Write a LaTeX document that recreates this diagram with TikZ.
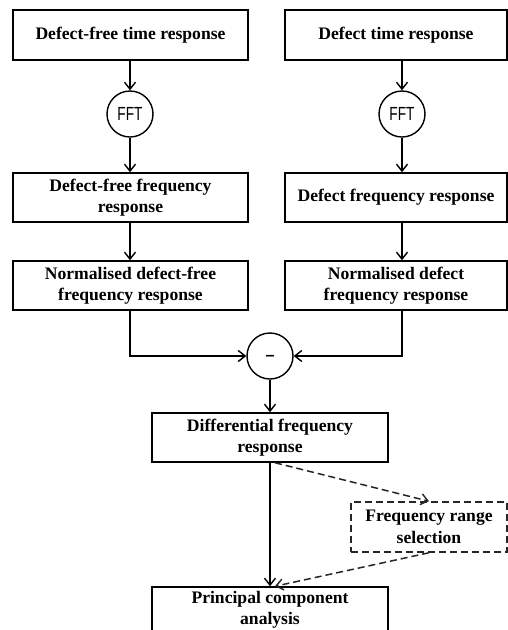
\documentclass[tikz,border=0pt]{standalone}
\usepackage{fontspec}
\setmainfont{Liberation Serif}
\setsansfont{Liberation Sans}
\newfontfamily\narrowsans[FakeStretch=0.72]{Liberation Sans}
\usetikzlibrary{arrows.meta}
\begin{document}
\begin{tikzpicture}[x=1pt,y=-1pt,
  box/.style={draw,line width=1.5pt,rectangle,align=center,inner sep=0pt,
    font=\fontsize{17.6}{21.5}\selectfont\bfseries},
  dbox/.style={box,dash pattern=on 7pt off 4pt,draw=black!85},
  opc/.style={draw,circle,line width=1.4pt,minimum size=46pt,inner sep=0pt,
    font=\fontsize{19}{21}\narrowsans},
  arr/.style={line width=1.5pt,-{Straight Barb[length=7pt,width=11pt,line width=1.4pt]}},
  darr/.style={line width=1.5pt,dash pattern=on 7pt off 4pt,draw=black!85,
    -{Straight Barb[length=7pt,width=11pt,line width=1.4pt]}}]
\clip (0,0) rectangle (508,630);
\useasboundingbox (0,0) rectangle (508,630);
% top boxes
\node[box,minimum width=235pt,minimum height=50pt] (b1) at (130.5,35) {Defect-free time response};
\node[box,minimum width=222pt,minimum height=50pt] (b2) at (396,35) {Defect time response};
% FFT
\node[opc] (f1) at (130,114) {FFT};
\node[opc] (f2) at (402,114) {FFT};
% frequency response
\node[box,minimum width=235pt,minimum height=49pt] (c1) at (130.5,197.5) {Defect-free frequency\\response};
\node[box,minimum width=222pt,minimum height=49pt] (c2) at (396,197.5) {Defect frequency response};
% normalised
\node[box,minimum width=235pt,minimum height=49pt] (n1) at (130.5,285.5) {Normalised defect-free\\frequency response};
\node[box,minimum width=222pt,minimum height=49pt] (n2) at (396,285.5) {Normalised defect\\frequency response};
% minus
\node[opc,font=\fontsize{16}{18}\sffamily\bfseries] (m) at (270,356) {\raisebox{-4pt}[0pt][0pt]{–}};
% differential
\node[box,minimum width=236pt,minimum height=49pt] (d) at (270,437.5) {Differential frequency\\response};
% frequency range selection
\node[dbox,minimum width=156pt,minimum height=50pt] (s) at (429,527) {Frequency range\\selection};
% PCA
\node[box,minimum width=236pt,minimum height=46pt] (p) at (270,610) {Principal component\\analysis};
% connectors
\draw[arr] (f1 |- b1.south) -- (f1);
\draw[arr] (f1) -- (f1 |- c1.north);
\draw[arr] (f2 |- b2.south) -- (f2);
\draw[arr] (f2) -- (f2 |- c2.north);
\draw[arr] (f1 |- c1.south) -- (f1 |- n1.north);
\draw[arr] (f2 |- c2.south) -- (f2 |- n2.north);
\draw[arr] (f1 |- n1.south) |- (m.west);
\draw[arr] (f2 |- n2.south) |- (m.east);
\draw[arr] (m) -- (d);
\draw[arr] (d) -- (p);
\draw[darr] ([xshift=5pt]d.south) -- (s.north);
\draw[darr] (s.south) -- ([xshift=5pt]p.north);
\end{tikzpicture}
\end{document}
